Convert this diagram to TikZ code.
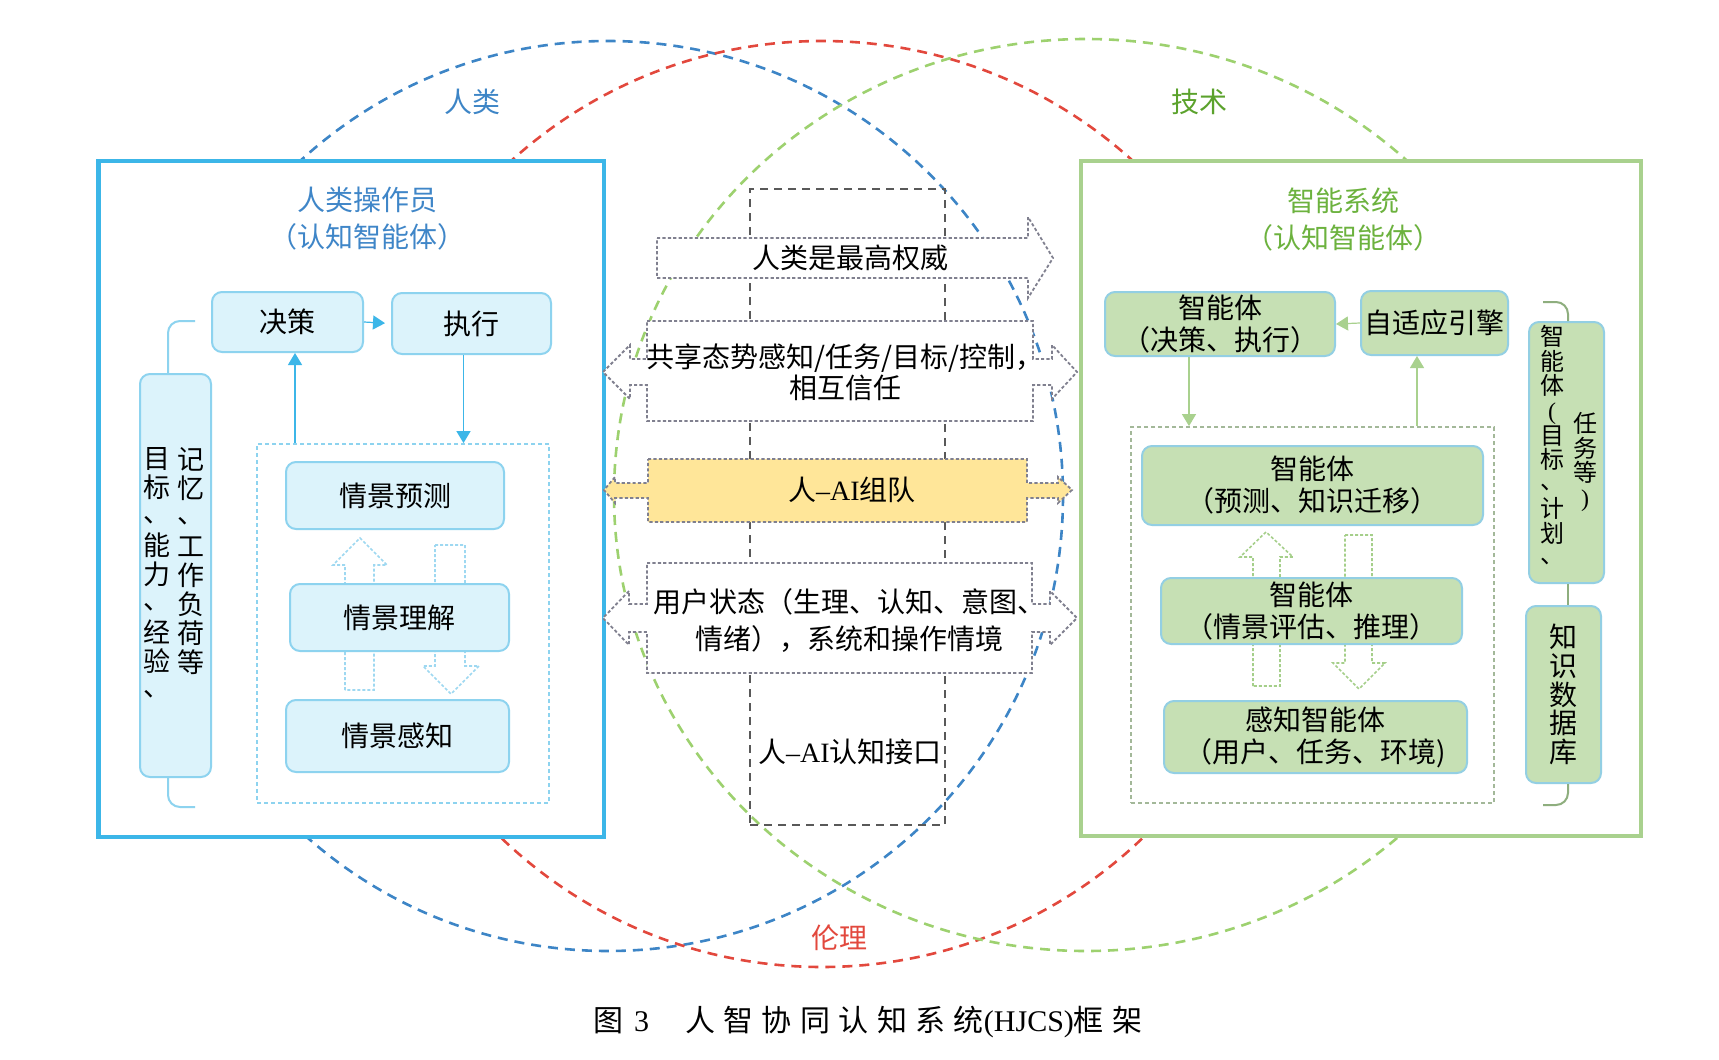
\documentclass[tikz,border=0pt]{standalone}
\usepackage{fontspec}
\setmainfont{Noto Sans CJK SC}
\newfontfamily\lat{Liberation Serif}
\newfontfamily\capfont[LetterSpace=28]{Noto Sans CJK SC}
\usetikzlibrary{arrows.meta}
\definecolor{hblue}{HTML}{3D85C6}
\definecolor{ered}{HTML}{E2483D}
\definecolor{tgreen}{HTML}{9DD16F}
\definecolor{boxblue}{HTML}{3CB6E8}
\definecolor{boxgreen}{HTML}{A9D18E}
\definecolor{cyanfill}{HTML}{DCF3FB}
\definecolor{cyanline}{HTML}{8DD3EF}
\definecolor{leaf}{HTML}{C6E0B4}
\definecolor{leafline}{HTML}{93CFE3}
\definecolor{gold}{HTML}{FFE699}
\definecolor{ink}{HTML}{595959}
\definecolor{bannergray}{HTML}{80808F}
\definecolor{titleblue}{HTML}{3F86C8}
\definecolor{titlegreen}{HTML}{6CB23E}
\definecolor{techgreen}{HTML}{5BA22C}
\definecolor{loopgreen}{HTML}{A3B899}
\definecolor{bracegreen}{HTML}{8EAE7E}
\definecolor{hollowblue}{HTML}{9ED8F1}
\definecolor{hollowgreen}{HTML}{A5CF8A}
\newcommand\vdun{\raisebox{.15em}{、}}
\tikzset{ring/.style={dash pattern=on 5pt off 3.5pt, line width=1.3pt},
bigframe/.style={line width=2.2pt, fill=white},
txt/.style={font=\fontsize{14}{16}\selectfont, inner sep=0pt, align=center},
cyanbox/.style={txt, draw=cyanline, fill=cyanfill, rounded corners=5pt, line width=1pt},
leafbox/.style={txt, draw=leafline, fill=leaf, rounded corners=5pt, line width=1pt},
loopbox/.style={dash pattern=on 2pt off 1.5pt, line width=.9pt, inner sep=0pt},
flowL/.style={draw=boxblue, line width=.6pt, -{Triangle[length=6pt,width=7pt]}},
flowR/.style={draw=boxgreen, line width=.6pt, -{Triangle[length=6pt,width=7pt]}},
hollow/.style={dash pattern=on 1.5pt off 1pt, line width=.8pt},
banner/.style={draw=bannergray, dash pattern=on 1.6pt off 1.1pt, line width=.9pt, fill=white},
iface/.style={draw=ink, dash pattern=on 4pt off 3pt, line width=1.1pt, inner sep=0pt},
vcol/.style={align=center, inner sep=0pt, anchor=north},
brace/.style={line width=1pt, rounded corners=6pt}}

\begin{document}
\begin{tikzpicture}[x=0.5pt,y=-0.5pt]
\useasboundingbox (0,0) rectangle (1719,1060);

% three domains
\draw[ring, hblue] (608,496) circle [radius=455];
\draw[ring, ered] (822,504) circle [radius=463];
\draw[ring, tgreen] (1086,495) ellipse [x radius=472, y radius=456];

\draw[bigframe, draw=boxblue] (98.5,161) rectangle (604,837);
\draw[bigframe, draw=boxgreen] (1081,161) rectangle (1641,836);

\node[txt, text=hblue] (lblHuman) at (472,102) {人类};
\node[txt, text=techgreen] (lblTech) at (1199,102) {技术};
\node[txt, text=ered] (lblEthic) at (839,938) {伦理};

% interface
\node[iface, minimum width=97.5pt, minimum height=318pt] (iface) at (847.5,507) {};
\draw[banner] (657,238) -- (1028,238) -- (1028,217) -- (1053,258) -- (1028,298) -- (1028,278) -- (657,278) -- cycle;
\draw[banner] (647,321) -- (1033,321) -- (1033,359) -- (1052,359) -- (1052,345) -- (1077,372) -- (1052,399) -- (1052,385) -- (1033,385) -- (1033,421) -- (647,421) -- (647,385) -- (630,385) -- (630,399) -- (603,372) -- (630,345) -- (630,359) -- (647,359) -- cycle;
\draw[banner, fill=gold] (648,459) -- (1027,459) -- (1027,483) -- (1058,483) -- (1058,477) -- (1072,490) -- (1058,503) -- (1058,498) -- (1027,498) -- (1027,522) -- (648,522) -- (648,498) -- (615,498) -- (615,503) -- (604,490) -- (615,477) -- (615,483) -- (648,483) -- cycle;
\draw[banner] (647,563) -- (1032,563) -- (1032,604) -- (1050,604) -- (1050,591) -- (1077,618) -- (1050,645) -- (1050,632) -- (1032,632) -- (1032,673) -- (647,673) -- (647,632) -- (629,632) -- (629,645) -- (603,618) -- (629,591) -- (629,604) -- (647,604) -- cycle;
\node[txt] (authority) at (850,258) {人类是最高权威};
\node[txt, font=\fontsize{14}{15.5}\selectfont] (shared) at (845,372) {共享态势感知/任务/目标/控制，\\相互信任};
\node[txt] (team) at (852,490) {人{\lat –AI}组队};
\node[txt, font=\fontsize{14}{18.5}\selectfont] (state) at (849,621) {用户状态（生理、认知、意图、\\情绪），系统和操作情境};
\node[txt] (ifacelabel) at (850,752) {人{\lat –AI}认知接口};

% human operator
\node[txt, text=titleblue, font=\fontsize{14}{18.5}\selectfont] (humanTitle) at (367,219) {人类操作员\\（认知智能体）};
\node[cyanbox, minimum width=75.5pt, minimum height=30pt] (decide) at (287.5,322) {决策};
\node[cyanbox, minimum width=79.5pt, minimum height=30.5pt] (act) at (471.5,323.5) {执行};
\node[loopbox, draw=cyanline, minimum width=146pt, minimum height=179.5pt] (loopL) at (403,623.5) {};
\draw[hollow, draw=hollowblue] (345,690) -- (345,565) -- (333,565) -- (360,538) -- (387,565) -- (374,565) -- (374,690) -- cycle;
\draw[hollow, draw=hollowblue] (435,545) -- (465,545) -- (465,666) -- (479,666) -- (451,694) -- (423,666) -- (435,666) -- cycle;
\node[cyanbox, minimum width=109pt, minimum height=33.5pt] (predictL) at (395,495.5) {情景预测};
\node[cyanbox, minimum width=109.5pt, minimum height=33.5pt] (comprehend) at (399.5,617.5) {情景理解};
\node[cyanbox, minimum width=111.5pt, minimum height=36pt] (perceive) at (397.5,736) {情景感知};
\node[cyanbox, minimum width=35.5pt, minimum height=201.5pt] (sideL) at (175.5,575.5) {};
\node[vcol, font=\fontsize{13.5}{14.5}\selectfont] (memR) at (191,447) {记\\忆\\\vdun\\工\\作\\负\\荷\\等};
\node[vcol, font=\fontsize{13.5}{14.5}\selectfont] (memL) at (157,447) {目\\标\\\vdun\\能\\力\\\vdun\\经\\验\\\vdun};
\coordinate (bLtop) at (195,321);
\coordinate (bLbot) at (195,807);
\draw[brace, cyanline] ([xshift=-3.75pt]sideL.north) |- (bLtop);
\draw[brace, cyanline] ([xshift=-3.75pt]sideL.south) |- (bLbot);
\draw[flowL, shorten >=3pt] (decide.east) -- (act.west);
\draw[flowL] ([xshift=-4pt]act.south) -- ([xshift=-4pt]act.south |- loopL.north);
\draw[flowL] ([xshift=3.75pt]decide.south |- loopL.north) -- ([xshift=3.75pt]decide.south);

% intelligent system
\node[txt, text=titlegreen, font=\fontsize{14}{18.5}\selectfont] (sysTitle) at (1343,220) {智能系统\\（认知智能体）};
\node[leafbox, minimum width=115pt, minimum height=32pt] (agentDA) at (1220,324) {智能体\\（决策、执行）};
\node[leafbox, minimum width=73.5pt, minimum height=32pt] (adapt) at (1434.5,323) {自适应引擎};
\node[loopbox, draw=loopgreen, minimum width=181.5pt, minimum height=188pt] (loopR) at (1312.5,615) {};
\draw[hollow, draw=hollowgreen] (1253,686) -- (1253,557) -- (1240,557) -- (1266,532) -- (1293,557) -- (1280,557) -- (1280,686) -- cycle;
\draw[hollow, draw=hollowgreen] (1345,535) -- (1372,535) -- (1372,663) -- (1385,663) -- (1359,689) -- (1333,663) -- (1345,663) -- cycle;
\node[leafbox, minimum width=170.5pt, minimum height=39.5pt] (agentPK) at (1312.5,485.5) {智能体\\（预测、知识迁移）};
\node[leafbox, minimum width=150.5pt, minimum height=33pt] (agentSR) at (1311.5,611) {智能体\\（情景评估、推理）};
\node[leafbox, minimum width=151.5pt, minimum height=36pt] (perceiveR) at (1315.5,737) {感知智能体\\（用户、任务、环境)};
\node[leafbox, minimum width=37.5pt, minimum height=130.5pt] (goalbox) at (1566.5,452.5) {};
\node[vcol, font=\fontsize{12}{12.3}\selectfont] (goalL) at (1552,325) {智\\能\\体\\{\lat (}\\目\\标\\\vdun\\计\\划\\\vdun};
\node[vcol, font=\fontsize{12}{12.3}\selectfont] (goalR) at (1585,412) {任\\务\\等\\{\lat )}};
\node[leafbox, minimum width=37.5pt, minimum height=88.5pt, font=\fontsize{14}{14.3}\selectfont] (kbase) at (1563.5,694.5) {知\\识\\数\\据\\库};
\coordinate (bRtop) at (1543,302);
\coordinate (bRbot) at (1543,805);
\draw[brace, bracegreen] ([xshift=.75pt]goalbox.north) |- (bRtop);
\draw[brace, bracegreen] ([xshift=.75pt]goalbox.south) -- ([xshift=.75pt]goalbox.south |- kbase.north);
\draw[brace, bracegreen] ([xshift=2.25pt]kbase.south) |- (bRbot);
\draw[flowR] (adapt.west) -- (agentDA.east);
\draw[flowR] ([xshift=-15.5pt]agentDA.south) -- ([xshift=-15.5pt]agentDA.south |- loopR.north);
\draw[flowR] ([xshift=-8.75pt]adapt.south |- loopR.north) -- ([xshift=-8.75pt]adapt.south);

\node[inner sep=0pt, font=\capfont\fontsize{15}{18}\selectfont] (caption) at (868,1022) {图\hspace{.35em}{\lat 3}\hspace{1.2em}人智协同认知系统{\lat (HJCS)}框架};
\end{tikzpicture}
\end{document}
